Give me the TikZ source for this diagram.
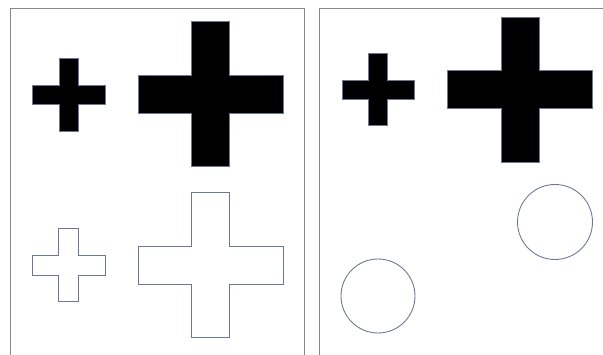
\documentclass[tikz,border=0pt]{standalone}
\usepackage{tikz}
\usetikzlibrary{calc}
\definecolor{framegray}{RGB}{135,135,135}
\definecolor{edgeblue}{RGB}{110,118,150}
\tikzstyle{panel}=[draw=framegray, line width=0.55pt]
\tikzstyle{solidplus}=[fill=black, draw=edgeblue, line width=0.4pt]
\tikzstyle{openplus}=[draw=edgeblue, line width=0.5pt]
\tikzstyle{ring}=[draw=edgeblue, line width=0.5pt]
% plus outline round the origin: #1 half length, #2 half bar
\newcommand{\plusshape}[2]{(-#1,-#2) -- (-#2,-#2) -- (-#2,-#1) -- (#2,-#1) -- (#2,-#2) -- (#1,-#2) -- (#1,#2) -- (#2,#2) -- (#2,#1) -- (-#2,#1) -- (-#2,#2) -- (-#1,#2) -- cycle}
\begin{document}
\begin{tikzpicture}[x=0.02cm,y=-0.02cm]
\useasboundingbox (0,0) rectangle (603,355);
\clip (0,0) rectangle (603,355);
% panels
\draw[panel] (10,8.5) rectangle (304,370);
\draw[panel] (319,8.5) rectangle (620,370);
% left panel, filled
\draw[solidplus,shift={(68.5,94.5)}] \plusshape{36.5}{9.5};
\draw[solidplus,shift={(210.5,94)}] \plusshape{72.5}{19};
% left panel, outlined
\draw[openplus,shift={(68.5,265)}] \plusshape{36.5}{10};
\draw[openplus,shift={(210.5,265)}] \plusshape{72.5}{19};
% right panel
\draw[solidplus,shift={(378,89.5)}] \plusshape{36}{9.5};
\draw[solidplus,shift={(520,89.5)}] \plusshape{72.5}{19};
\draw[ring] (555,222) circle (37.5);
\draw[ring] (378,296) circle (37);
\end{tikzpicture}
\end{document}
